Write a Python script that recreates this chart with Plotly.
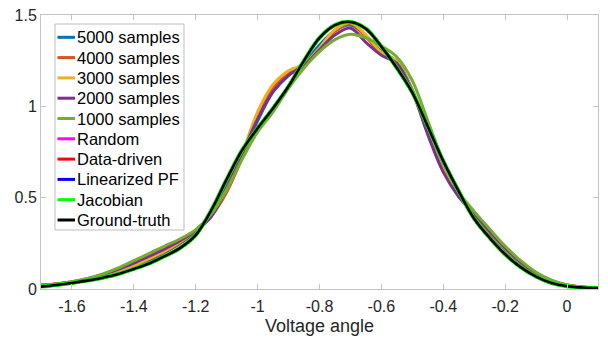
import plotly.graph_objects as go

# ---------------- data ----------------
x_vals = [-1.70, -1.65, -1.60, -1.55, -1.50, -1.45, -1.40, -1.35, -1.30, -1.25,
          -1.20, -1.15, -1.10, -1.05, -1.00, -0.95, -0.90, -0.85, -0.80, -0.75,
          -0.70, -0.65, -0.60, -0.55, -0.50, -0.45, -0.40, -0.35, -0.30, -0.25,
          -0.20, -0.15, -0.10, -0.05, 0.00, 0.05, 0.10]

s5000 = [0.020, 0.026, 0.035, 0.048, 0.066, 0.090, 0.120, 0.158, 0.200, 0.250,
         0.315, 0.410, 0.560, 0.730, 0.920, 1.080, 1.170, 1.235, 1.335, 1.415,
         1.445, 1.385, 1.300, 1.245, 1.090, 0.860, 0.655, 0.515, 0.405, 0.305,
         0.215, 0.140, 0.082, 0.042, 0.020, 0.010, 0.006]

s4000 = [0.022, 0.028, 0.037, 0.050, 0.070, 0.095, 0.128, 0.165, 0.205, 0.255,
         0.320, 0.400, 0.530, 0.720, 0.950, 1.100, 1.185, 1.225, 1.310, 1.410,
         1.452, 1.380, 1.290, 1.240, 1.085, 0.855, 0.650, 0.510, 0.410, 0.310,
         0.220, 0.145, 0.085, 0.044, 0.021, 0.010, 0.006]

s3000 = [0.020, 0.027, 0.037, 0.052, 0.073, 0.098, 0.130, 0.168, 0.208, 0.258,
         0.322, 0.410, 0.545, 0.740, 0.970, 1.120, 1.195, 1.230, 1.320, 1.420,
         1.458, 1.390, 1.295, 1.245, 1.085, 0.855, 0.650, 0.512, 0.410, 0.312,
         0.222, 0.146, 0.086, 0.045, 0.021, 0.010, 0.006]

s2000 = [0.020, 0.028, 0.040, 0.057, 0.080, 0.108, 0.142, 0.180, 0.220, 0.265,
         0.318, 0.395, 0.550, 0.740, 0.930, 1.080, 1.170, 1.225, 1.310, 1.390,
         1.428, 1.350, 1.280, 1.235, 1.080, 0.845, 0.640, 0.505, 0.412, 0.315,
         0.225, 0.148, 0.088, 0.046, 0.022, 0.011, 0.007]

s1000 = [0.020, 0.028, 0.040, 0.058, 0.083, 0.115, 0.155, 0.195, 0.235, 0.275,
         0.325, 0.410, 0.545, 0.710, 0.860, 0.970, 1.100, 1.210, 1.300, 1.365,
         1.395, 1.375, 1.330, 1.270, 1.140, 0.920, 0.700, 0.530, 0.425, 0.328,
         0.235, 0.155, 0.092, 0.048, 0.022, 0.011, 0.007]

ground_truth = [0.013, 0.022, 0.033, 0.046, 0.062, 0.082, 0.110, 0.140, 0.180, 0.225,
                0.295, 0.430, 0.600, 0.760, 0.880, 0.990, 1.110, 1.250, 1.375, 1.445,
                1.462, 1.425, 1.327, 1.210, 1.075, 0.890, 0.700, 0.535, 0.385, 0.280,
                0.190, 0.120, 0.068, 0.033, 0.015, 0.008, 0.005]

# the model-based estimates coincide with the ground truth in the picture
random_est = list(ground_truth)
data_driven = list(ground_truth)
linearized_pf = list(ground_truth)
jacobian = list(ground_truth)

series_names = ["5000 samples", "4000 samples", "3000 samples", "2000 samples",
                "1000 samples", "Random", "Data-driven", "Linearized PF",
                "Jacobian", "Ground-truth"]
series_values = [s5000, s4000, s3000, s2000, s1000, random_est, data_driven,
                 linearized_pf, jacobian, ground_truth]
series_colors = ["#0072BD", "#D95319", "#EDB120", "#7E2F8E", "#77AC30",
                 "#FF00FF", "#FF0000", "#0000FF", "#00FF00", "#000000"]
series_widths = [3, 3, 3, 3, 3, 3, 3, 3, 4, 2.6]

x_tick_vals = [-1.6, -1.4, -1.2, -1.0, -0.8, -0.6, -0.4, -0.2, 0.0]
x_tick_text = ["-1.6", "-1.4", "-1.2", "-1", "-0.8", "-0.6", "-0.4", "-0.2", "0"]
y_tick_vals = [0, 0.5, 1, 1.5]
y_tick_text = ["0", "0.5", "1", "1.5"]

# ---------------- figure ----------------
W, H = 608, 340
ML, MR, MT, MB = 41, 10, 15, 51
PW, PH = W - ML - MR, H - MT - MB
FONT = "Liberation Sans, Arial, Helvetica, sans-serif"
AXC = "#c4c4c4"
TXT = "#262626"

fig = go.Figure()
for name, vals, col, lw in zip(series_names, series_values, series_colors, series_widths):
    fig.add_trace(go.Scatter(x=x_vals, y=vals, mode="lines", name=name,
                             line=dict(color=col, width=lw, shape="spline", smoothing=1.0),
                             showlegend=False))


def px2x(p):
    return (p - ML) / PW


def py2y(p):
    return (H - MB - p) / PH


# manual MATLAB-like legend
shapes = [dict(type="rect", xref="paper", yref="paper",
               x0=px2x(55), x1=px2x(184), y0=py2y(230), y1=py2y(24),
               line=dict(color="#bdbdbd", width=1), fillcolor="white", layer="above")]
annotations = []
row0, dy = 37.3, 20.3
for i, (name, col) in enumerate(zip(series_names, series_colors)):
    yc = row0 + i * dy
    shapes.append(dict(type="line", xref="paper", yref="paper",
                       x0=px2x(57.5), x1=px2x(75), y0=py2y(yc), y1=py2y(yc),
                       line=dict(color=col, width=3), layer="above"))
    annotations.append(dict(xref="paper", yref="paper", x=px2x(74.5), y=py2y(yc),
                            xanchor="left", yanchor="middle", text=name, showarrow=False,
                            font=dict(family=FONT, size=16.5, color="black")))

fig.update_layout(
    width=W, height=H,
    margin=dict(l=ML, r=MR, t=MT, b=MB, pad=0, autoexpand=False),
    paper_bgcolor="white", plot_bgcolor="white",
    font=dict(family=FONT, size=16, color=TXT),
    shapes=shapes, annotations=annotations,
    showlegend=False,
)
fig.update_xaxes(range=[-1.7, 0.1], tickvals=x_tick_vals, ticktext=x_tick_text,
                 automargin=False,
                 showgrid=False, zeroline=False, showline=True, linecolor=AXC, linewidth=1,
                 mirror="ticks", ticks="inside", ticklen=5, tickcolor=AXC, tickwidth=1,
                 ticklabelstandoff=3,
                 tickfont=dict(family=FONT, size=16, color=TXT),
                 title=dict(text="Voltage angle", font=dict(family=FONT, size=18, color=TXT), standoff=5))
fig.update_yaxes(range=[0, 1.5], tickvals=y_tick_vals, ticktext=y_tick_text,
                 automargin=False,
                 showgrid=False, zeroline=False, showline=True, linecolor=AXC, linewidth=1,
                 mirror="ticks", ticks="inside", ticklen=5, tickcolor=AXC, tickwidth=1,
                 tickfont=dict(family=FONT, size=16, color=TXT))

fig.write_html("out.html")
